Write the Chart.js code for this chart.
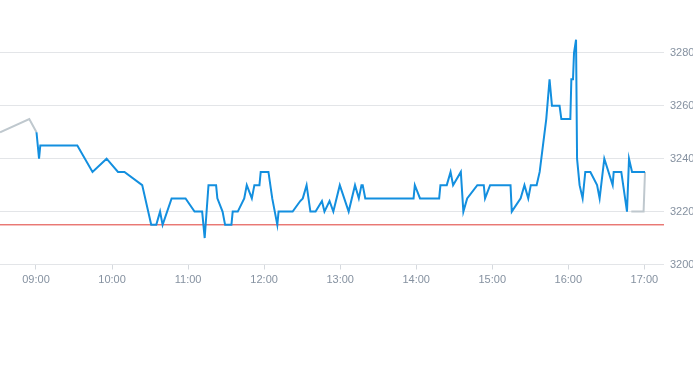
<!DOCTYPE html>
<html>
<head>
<meta charset="utf-8">
<script src="https://cdn.jsdelivr.net/npm/chart.js@4/dist/chart.umd.min.js"></script>
<style>
  html, body { margin: 0; padding: 0; background: #ffffff; }
  #wrap { position: relative; width: 693px; height: 365px; overflow: hidden; }
  canvas { position: absolute; left: 0; top: 0; }
</style>
</head>
<body>
<div id="wrap"><canvas id="c" width="693" height="365"></canvas></div>
<script>
// Time in minutes since midnight, price values
const priceTimes = [540.4, 542.4, 543.4, 572.6, 584.6, 595.7, 604.7, 609.8, 623.8, 630.9, 634.9, 637.9, 639.9, 647.0, 658.0, 665.1, 671.1, 673.1, 676.1, 682.1, 683.1, 687.2, 689.2, 694.2, 695.2, 699.2, 704.3, 706.3, 710.3, 712.3, 716.3, 717.3, 723.4, 726.4, 730.4, 731.4, 742.5, 748.5, 750.5, 753.5, 756.5, 760.6, 765.6, 767.6, 771.6, 774.6, 779.7, 786.7, 791.7, 794.7, 796.8, 797.8, 799.8, 837.9, 838.9, 843.0, 858.1, 859.1, 864.1, 867.1, 869.1, 875.2, 877.2, 880.2, 888.2, 893.3, 894.3, 898.3, 914.4, 915.4, 922.4, 925.4, 928.4, 930.4, 935.0, 937.4, 940.0, 942.6, 945.2, 947.1, 953.1, 954.5, 961.6, 962.4, 963.7, 964.5, 966.1, 966.9, 968.9, 971.3, 973.4, 977.4, 982.7, 984.7, 988.4, 995.0, 995.8, 1001.8, 1006.3, 1007.9, 1010.3, 1020.5];
const priceValues = [3250, 3240, 3245, 3245, 3235, 3240, 3235, 3235, 3230, 3215, 3215, 3220, 3215, 3225, 3225, 3220, 3220, 3210, 3230, 3230, 3225, 3220, 3215, 3215, 3220, 3220, 3225, 3230, 3225, 3230, 3230, 3235, 3235, 3225, 3215, 3220, 3220, 3224, 3225, 3230, 3220, 3220, 3224, 3220, 3224, 3220, 3230, 3220, 3230, 3225, 3230, 3230, 3225, 3225, 3230, 3225, 3225, 3230, 3230, 3235, 3230, 3235, 3220, 3225, 3230, 3230, 3225, 3230, 3230, 3220, 3225, 3230, 3225, 3230, 3230, 3235, 3245, 3255, 3270, 3260, 3260, 3255, 3255, 3270, 3270, 3280, 3285, 3240, 3230, 3225, 3235, 3235, 3230, 3225, 3240, 3230, 3235, 3235, 3220, 3240, 3235, 3235];

// Grey auxiliary line (before open and after close), null = gap
const greyTimes = [511.6, 534.7, 540.4, 1000, 1009.7, 1019.4, 1020.5];
const greyValues = [3250, 3255, 3250, null, 3220, 3220, 3235];

// Red reference level
const refLevel = 3215;

// Axis ranges / ticks
const xMin = 511.6;
const xMax = 1035.5;
const yMin = 3200;
const yMax = 3300;
const yStep = 20;
const xStep = 60;

function pts(xs, ys) { return xs.map((x, i) => ({ x: x, y: ys[i] })); }
function hhmm(m) {
  const h = Math.floor(m / 60), mm = Math.round(m % 60);
  return String(h).padStart(2, '0') + ':' + String(mm).padStart(2, '0');
}

const tickColor = '#8591a0';
const gridColor = '#e3e5e8';
const font = { family: "'Liberation Sans', Arial, sans-serif", size: 11 };

new Chart(document.getElementById('c'), {
  type: 'line',
  data: {
    datasets: [
      {
        data: pts(priceTimes, priceValues),
        borderColor: '#138fdf',
        borderWidth: 2,
        pointRadius: 0,
        tension: 0,
        fill: false
      },
      {
        data: pts(greyTimes, greyValues),
        borderColor: '#bfc8ce',
        borderWidth: 2,
        pointRadius: 0,
        tension: 0,
        spanGaps: false,
        fill: false
      },
      {
        data: pts([xMin, xMax], [refLevel, refLevel]),
        borderColor: '#df3b35',
        borderWidth: 1,
        pointRadius: 0,
        tension: 0,
        fill: false
      }
    ]
  },
  options: {
    responsive: false,
    animation: false,
    devicePixelRatio: 1,
    layout: { padding: { left: 0, right: 0, top: 0, bottom: 74.3 } },
    plugins: { legend: { display: false }, tooltip: { enabled: false } },
    scales: {
      x: {
        type: 'linear',
        min: xMin,
        max: xMax,
        border: { display: false },
        grid: { display: true, drawOnChartArea: false, drawTicks: true, tickLength: 5, color: '#d5d9de' },
        ticks: {
          stepSize: xStep,
          includeBounds: false,
          maxRotation: 0,
          autoSkip: false,
          padding: 4,
          color: tickColor,
          font: font,
          callback: (v) => hhmm(v)
        },
        afterFit: (s) => { s.paddingLeft = 0; s.paddingRight = 0; }
      },
      y: {
        type: 'linear',
        position: 'right',
        min: yMin,
        max: yMax,
        border: { display: false },
        grid: { color: gridColor, drawTicks: false },
        ticks: {
          stepSize: yStep,
          includeBounds: false,
          padding: 6,
          color: tickColor,
          font: font,
          callback: (v) => String(v)
        },
        afterBuildTicks: (s) => { s.ticks = s.ticks.filter(t => t.value < yMax); },
        afterFit: (s) => { s.paddingTop = 0; s.paddingBottom = 0; s.width = 29; }
      }
    }
  }
});
</script>
</body>
</html>
